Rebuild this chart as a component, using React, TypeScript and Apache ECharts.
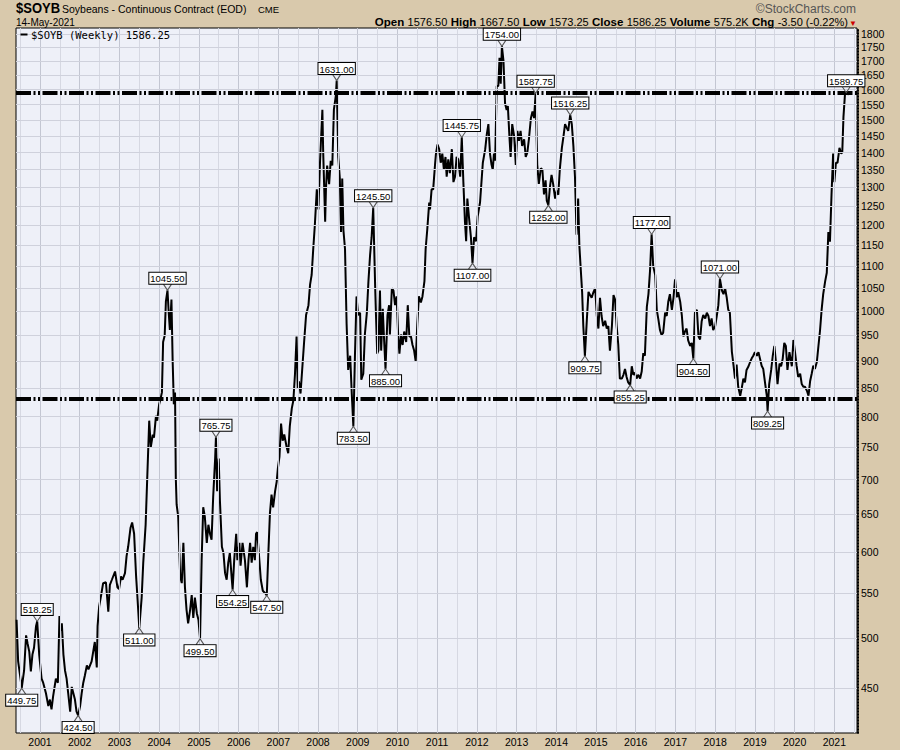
import React, { useEffect, useRef } from "react";
import * as echarts from "echarts";

// Weekly closes: [decimal year, price in cents/bushel]
const weeklyCloses: [number, number][] = [
  [2000.41, 520], [2000.45, 476], [2000.51, 459], [2000.54, 449.75], [2000.60, 467], [2000.65, 503], [2000.69, 494], [2000.73, 486], [2000.77, 466], [2000.81, 483], [2000.85, 490], [2000.90, 513], [2000.93, 518.25], [2000.98, 483],
  [2001.04, 459], [2001.08, 455], [2001.15, 445], [2001.21, 433], [2001.25, 439], [2001.29, 430], [2001.33, 442], [2001.40, 459], [2001.45, 455], [2001.49, 524], [2001.52, 508], [2001.55, 516], [2001.59, 483], [2001.63, 467], [2001.67, 459], [2001.71, 445], [2001.76, 428], [2001.80, 451], [2001.84, 445], [2001.88, 439], [2001.92, 428], [2001.96, 424.5],
  [2002.01, 433], [2002.05, 445], [2002.09, 455], [2002.13, 462], [2002.18, 472], [2002.22, 468], [2002.26, 472], [2002.30, 476], [2002.34, 486], [2002.38, 496], [2002.43, 470], [2002.45, 513], [2002.49, 535], [2002.54, 548], [2002.59, 562], [2002.66, 563], [2002.72, 529], [2002.76, 560], [2002.81, 566], [2002.89, 576], [2002.95, 557], [2002.99, 555],
  [2003.04, 570], [2003.08, 566], [2003.14, 574], [2003.18, 595], [2003.22, 607], [2003.28, 632], [2003.32, 639], [2003.37, 624], [2003.42, 570], [2003.45, 548], [2003.50, 511], [2003.56, 545], [2003.60, 587], [2003.66, 636], [2003.70, 702], [2003.75, 793], [2003.79, 750], [2003.84, 770], [2003.87, 765], [2003.92, 801], [2003.95, 793],
  [2004.00, 821], [2004.04, 832], [2004.07, 842], [2004.10, 937], [2004.14, 950], [2004.17, 1021], [2004.21, 1045.5], [2004.24, 999], [2004.27, 961], [2004.31, 1025], [2004.34, 901], [2004.37, 821], [2004.40, 842], [2004.42, 702], [2004.44, 664], [2004.48, 647], [2004.53, 570], [2004.57, 562], [2004.61, 612], [2004.65, 557], [2004.69, 531], [2004.73, 516], [2004.78, 531], [2004.82, 548], [2004.86, 522], [2004.90, 545], [2004.95, 527], [2004.99, 520],
  [2005.03, 499.5], [2005.07, 590], [2005.11, 660], [2005.15, 647], [2005.20, 612], [2005.24, 636], [2005.28, 624], [2005.32, 616], [2005.36, 674], [2005.41, 732], [2005.43, 765.75], [2005.46, 683], [2005.50, 732], [2005.53, 670], [2005.58, 607], [2005.62, 599], [2005.66, 574], [2005.70, 566], [2005.74, 587], [2005.78, 599], [2005.83, 566], [2005.85, 554.25], [2005.89, 590], [2005.94, 624], [2005.97, 590],
  [2006.02, 612], [2006.05, 583], [2006.10, 612], [2006.16, 590], [2006.21, 557], [2006.25, 590], [2006.29, 612], [2006.33, 587], [2006.37, 607], [2006.41, 590], [2006.44, 624], [2006.47, 626], [2006.51, 599], [2006.56, 566], [2006.61, 553], [2006.67, 550], [2006.71, 547.5], [2006.75, 599], [2006.79, 652], [2006.83, 678], [2006.87, 660], [2006.92, 683], [2006.96, 697], [2006.99, 717],
  [2007.03, 735], [2007.07, 788], [2007.11, 760], [2007.15, 770], [2007.21, 750], [2007.25, 740], [2007.29, 784], [2007.34, 814], [2007.38, 828], [2007.42, 875], [2007.46, 948], [2007.49, 850], [2007.52, 862], [2007.56, 840], [2007.65, 937], [2007.70, 992], [2007.76, 1013], [2007.80, 1058], [2007.84, 1080], [2007.88, 1141], [2007.92, 1200], [2007.97, 1295],
  [2008.01, 1241], [2008.05, 1370], [2008.11, 1533], [2008.13, 1404], [2008.18, 1209], [2008.20, 1295], [2008.23, 1362], [2008.28, 1309], [2008.32, 1376], [2008.36, 1362], [2008.40, 1533], [2008.45, 1580], [2008.47, 1631], [2008.51, 1387], [2008.55, 1325], [2008.58, 1183], [2008.61, 1325], [2008.64, 1188], [2008.68, 1141], [2008.72, 974], [2008.76, 883], [2008.81, 910], [2008.85, 840], [2008.89, 783.5], [2008.93, 910], [2008.97, 1032],
  [2009.01, 992], [2009.06, 997], [2009.09, 865], [2009.14, 876], [2009.18, 952], [2009.23, 997], [2009.27, 1066], [2009.31, 1125], [2009.35, 1170], [2009.39, 1245.5], [2009.44, 1050], [2009.46, 992], [2009.49, 914], [2009.52, 920], [2009.56, 1045], [2009.59, 920], [2009.63, 1005], [2009.66, 948], [2009.70, 885], [2009.75, 992], [2009.79, 1013], [2009.81, 952], [2009.86, 1050], [2009.90, 1045], [2009.94, 1013], [2009.98, 1032],
  [2010.02, 948], [2010.05, 914], [2010.09, 952], [2010.13, 931], [2010.17, 958], [2010.22, 937], [2010.26, 1013], [2010.30, 948], [2010.34, 948], [2010.38, 931], [2010.42, 920], [2010.46, 899], [2010.50, 974], [2010.54, 1032], [2010.59, 1019], [2010.63, 1032], [2010.68, 1066], [2010.71, 1141], [2010.75, 1188], [2010.80, 1259], [2010.82, 1241], [2010.86, 1295], [2010.90, 1295], [2010.95, 1370], [2010.97, 1397],
  [2011.01, 1424], [2011.05, 1410], [2011.09, 1370], [2011.13, 1397], [2011.17, 1350], [2011.21, 1387], [2011.24, 1330], [2011.28, 1380], [2011.32, 1340], [2011.37, 1410], [2011.41, 1315], [2011.45, 1330], [2011.49, 1387], [2011.53, 1380], [2011.58, 1330], [2011.62, 1445.75], [2011.66, 1315], [2011.70, 1209], [2011.73, 1160], [2011.76, 1270], [2011.80, 1222], [2011.85, 1170], [2011.89, 1107], [2011.93, 1170], [2011.98, 1160],
  [2012.02, 1222], [2012.08, 1260], [2012.15, 1370], [2012.21, 1410], [2012.25, 1455], [2012.29, 1487], [2012.33, 1397], [2012.37, 1364], [2012.40, 1350], [2012.43, 1397], [2012.46, 1376], [2012.50, 1612], [2012.54, 1612], [2012.57, 1711], [2012.60, 1620], [2012.63, 1754], [2012.67, 1700], [2012.71, 1553], [2012.75, 1532], [2012.78, 1545], [2012.82, 1448], [2012.85, 1387], [2012.89, 1487], [2012.94, 1448], [2012.98, 1364],
  [2013.02, 1466], [2013.06, 1435], [2013.10, 1466], [2013.14, 1420], [2013.19, 1440], [2013.23, 1387], [2013.27, 1400], [2013.31, 1440], [2013.36, 1506], [2013.40, 1527], [2013.44, 1506], [2013.48, 1587.75], [2013.52, 1364], [2013.56, 1310], [2013.61, 1354], [2013.65, 1350], [2013.69, 1281], [2013.73, 1320], [2013.76, 1264], [2013.80, 1252], [2013.84, 1302], [2013.88, 1335], [2013.92, 1310], [2013.97, 1270],
  [2014.01, 1292], [2014.05, 1280], [2014.09, 1354], [2014.14, 1414], [2014.18, 1448], [2014.22, 1487], [2014.26, 1476], [2014.30, 1466], [2014.35, 1516.25], [2014.39, 1487], [2014.43, 1420], [2014.47, 1330], [2014.51, 1176], [2014.55, 1270], [2014.58, 1150], [2014.61, 1102], [2014.65, 1042], [2014.68, 969], [2014.72, 909.75], [2014.77, 984], [2014.81, 1042], [2014.85, 1035], [2014.89, 1029], [2014.93, 1040], [2014.98, 1050],
  [2015.02, 991], [2015.06, 964], [2015.10, 1029], [2015.14, 990], [2015.18, 969], [2015.23, 980], [2015.27, 964], [2015.31, 969], [2015.35, 920], [2015.40, 969], [2015.44, 1035], [2015.48, 1025], [2015.52, 969], [2015.56, 932], [2015.60, 867], [2015.65, 867], [2015.69, 874], [2015.73, 885], [2015.77, 870], [2015.81, 860], [2015.86, 855.25], [2015.90, 890], [2015.94, 874], [2015.98, 878],
  [2016.02, 867], [2016.06, 874], [2016.11, 867], [2016.15, 880], [2016.19, 915], [2016.23, 910], [2016.28, 1010], [2016.32, 1037], [2016.36, 1090], [2016.40, 1177], [2016.44, 1100], [2016.49, 1080], [2016.53, 1003], [2016.57, 983], [2016.61, 961], [2016.65, 951], [2016.69, 955], [2016.74, 997], [2016.78, 990], [2016.82, 1021], [2016.86, 1037], [2016.91, 1003], [2016.95, 1029], [2016.99, 1070],
  [2017.03, 1030], [2017.07, 1041], [2017.12, 1020], [2017.16, 992], [2017.20, 948], [2017.24, 958], [2017.28, 964], [2017.32, 940], [2017.37, 929], [2017.41, 935], [2017.45, 904.5], [2017.49, 997], [2017.54, 1003], [2017.58, 948], [2017.62, 942], [2017.66, 979], [2017.70, 992], [2017.75, 985], [2017.79, 997], [2017.83, 990], [2017.87, 969], [2017.91, 985], [2017.95, 961],
  [2018.00, 969], [2018.04, 990], [2018.08, 1013], [2018.12, 1071], [2018.17, 1045], [2018.21, 1037], [2018.25, 1050], [2018.29, 1030], [2018.33, 1003], [2018.37, 997], [2018.42, 918], [2018.46, 893], [2018.50, 867], [2018.54, 893], [2018.58, 852], [2018.63, 836], [2018.67, 850], [2018.71, 867], [2018.75, 860], [2018.79, 883], [2018.84, 890], [2018.88, 898], [2018.92, 905], [2018.96, 910],
  [2019.00, 917], [2019.05, 910], [2019.09, 917], [2019.13, 904], [2019.17, 891], [2019.21, 885], [2019.26, 857], [2019.30, 836], [2019.32, 809.25], [2019.36, 857], [2019.41, 883], [2019.45, 910], [2019.49, 929], [2019.53, 898], [2019.57, 857], [2019.62, 895], [2019.66, 890], [2019.70, 904], [2019.74, 935], [2019.78, 929], [2019.82, 883], [2019.87, 917], [2019.93, 890], [2019.97, 941],
  [2020.01, 917], [2020.05, 891], [2020.09, 870], [2020.14, 876], [2020.18, 857], [2020.22, 852], [2020.26, 852], [2020.31, 845], [2020.35, 836], [2020.39, 862], [2020.43, 876], [2020.47, 891], [2020.51, 885], [2020.56, 898], [2020.60, 929], [2020.64, 960], [2020.68, 1003], [2020.72, 1037], [2020.77, 1066], [2020.81, 1085], [2020.85, 1183], [2020.89, 1159], [2020.93, 1282], [2020.97, 1397],
  [2021.00, 1315], [2021.04, 1370], [2021.08, 1370], [2021.13, 1414], [2021.17, 1397], [2021.20, 1400], [2021.23, 1510], [2021.27, 1588], [2021.30, 1589.75], [2021.34, 1584], [2021.37, 1586.25],
];

const highDates = [2000.93, 2004.21, 2005.43, 2008.47, 2009.39, 2011.62, 2012.63, 2013.48, 2014.35, 2016.40, 2018.12, 2021.30];
const highValues = [518.25, 1045.5, 765.75, 1631, 1245.5, 1445.75, 1754, 1587.75, 1516.25, 1177, 1071, 1589.75];
const lowDates = [2000.54, 2001.96, 2003.50, 2005.03, 2005.85, 2006.71, 2008.89, 2009.70, 2011.89, 2013.80, 2014.72, 2015.86, 2017.45, 2019.32];
const lowValues = [449.75, 424.5, 511, 499.5, 554.25, 547.5, 783.5, 885, 1107, 1252, 909.75, 855.25, 904.5, 809.25];

const levelLines = [1590, 830];
const yTicks = [450, 500, 550, 600, 650, 700, 750, 800, 850, 900, 950, 1000, 1050, 1100, 1150, 1200, 1250, 1300, 1350, 1400, 1450, 1500, 1550, 1600, 1650, 1700, 1750, 1800];
const yearTicks = [2001, 2002, 2003, 2004, 2005, 2006, 2007, 2008, 2009, 2010, 2011, 2012, 2013, 2014, 2015, 2016, 2017, 2018, 2019, 2020, 2021];
const halfYearTicks = [2000.5, 2001.5, 2002.5, 2003.5, 2004.5, 2005.5, 2006.5, 2007.5, 2008.5, 2009.5, 2010.5, 2011.5, 2012.5, 2013.5, 2014.5, 2015.5, 2016.5, 2017.5, 2018.5, 2019.5, 2020.5, 2021.5];

const headerFields: [string, string][] = [
  ["Open", "1576.50"],
  ["High", "1667.50"],
  ["Low", "1573.25"],
  ["Close", "1586.25"],
  ["Volume", "575.2K"],
  ["Chg", "-3.50 (-0.22%)"],
];

const SANS = '"Liberation Sans", Arial, sans-serif';
const MONO = '"DejaVu Sans Mono", monospace';

export default function App() {
  const ref = useRef<HTMLDivElement>(null);

  useEffect(() => {
    if (!ref.current) return;
    const chart = echarts.init(ref.current, undefined, { renderer: "svg" });

    const gridLines: any[] = [
      ...halfYearTicks.map((t) => ({
        xAxis: t,
        lineStyle: { color: "#d6d8e2", width: 1, type: "solid" },
        label: { show: false },
      })),
      ...yearTicks.map((t) => ({
        xAxis: t,
        lineStyle: { color: "#c3c6d2", width: 1, type: "solid" },
        label: {
          show: true,
          position: "start",
          distance: 3,
          formatter: () => String(t),
          color: "#000",
          fontSize: 10.5,
          fontFamily: SANS,
        },
      })),
      ...yTicks.map((v) => ({
        yAxis: v,
        lineStyle: { color: "#cfd1dc", width: 1, type: "solid" },
        label: {
          show: true,
          position: "end",
          distance: 4,
          formatter: () => String(v),
          color: "#000",
          fontSize: 10.5,
          fontFamily: SANS,
        },
      })),
    ];

    const labelBox = {
      show: true,
      color: "#000",
      fontSize: 9.5,
      lineHeight: 10,
      fontFamily: SANS,
      backgroundColor: "#fff",
      borderColor: "#000",
      borderWidth: 1,
      padding: [1, 1, 0, 1],
      formatter: (p: any) => Number(p.value).toFixed(2),
    };

    const pointMarks: any[] = [
      ...highDates.map((d, i) => ({
        coord: [d, highValues[i]],
        value: highValues[i],
        symbol: "path://M0,0L4,5L8,0",
        symbolSize: [8, 6],
        symbolOffset: [0, -3],
        label: { ...labelBox, position: "top", distance: 0 },
      })),
      ...lowDates.map((d, i) => ({
        coord: [d, lowValues[i]],
        value: lowValues[i],
        symbol: "path://M0,5L4,0L8,5",
        symbolSize: [8, 6],
        symbolOffset: [0, 3],
        label: { ...labelBox, position: "bottom", distance: 0 },
      })),
    ];

    const headerRich = headerFields
      .map(([k, v]) => `{b|${k}} {v|${v}}`)
      .join(" ");

    const option: any = {
      animation: false,
      backgroundColor: "#d9c9ac",
      grid: {
        left: 16,
        top: 28,
        width: 841,
        height: 705,
        show: true,
        backgroundColor: "#eef0f8",
        borderColor: "#000",
        borderWidth: 1,
      },
      xAxis: {
        type: "value",
        min: 2000.396,
        max: 2021.571,
        axisLabel: { show: false },
        axisTick: { show: false },
        axisLine: { show: false },
        splitLine: { show: false },
      },
      yAxis: {
        type: "log",
        logBase: 10,
        min: 409,
        max: 1823,
        position: "right",
        offset: 1,
        axisLabel: { show: false },
        axisTick: { show: false },
        splitLine: { show: false },
        axisLine: { show: true, onZero: false, lineStyle: { color: "#000", width: 2, type: [1, 2] } },
      },
      series: [
        {
          type: "line",
          data: [],
          silent: true,
          z: 1,
          markLine: {
            silent: true,
            symbol: ["none", "none"],
            animation: false,
            data: gridLines,
          },
        },
        {
          type: "line",
          data: weeklyCloses,
          showSymbol: false,
          silent: true,
          z: 3,
          lineStyle: { color: "#000", width: 2 },
          itemStyle: { color: "#000" },
          markPoint: {
            silent: true,
            animation: false,
            itemStyle: { color: "rgba(0,0,0,0)", borderColor: "#555", borderWidth: 1 },
            data: pointMarks,
          },
        },
        {
          type: "line",
          data: [],
          silent: true,
          z: 5,
          markLine: {
            silent: true,
            symbol: ["none", "none"],
            animation: false,
            label: { show: false },
            lineStyle: { color: "#000", width: 4, type: [15, 2.5, 2, 2.5, 2, 2.5] },
            data: levelLines.map((v) => ({ yAxis: v })),
          },
        },
      ],
      graphic: [
        {
          type: "text",
          x: 16,
          y: 8,
          scaleY: 1.1,
          style: { text: "$SOYB", font: `bold 13px ${SANS}`, fill: "#000", verticalAlign: "middle" },
        },
        {
          type: "text",
          x: 62,
          y: 8.5,
          style: {
            text: "Soybeans - Continuous Contract (EOD)",
            font: `10.5px ${SANS}`,
            fill: "#000",
            verticalAlign: "middle",
          },
        },
        {
          type: "text",
          x: 258,
          y: 9,
          style: { text: "CME", font: `9.5px ${SANS}`, fill: "#000", verticalAlign: "middle" },
        },
        {
          type: "text",
          x: 16,
          y: 22,
          style: { text: "14-May-2021", font: `10px ${SANS}`, fill: "#000", verticalAlign: "middle" },
        },
        {
          type: "text",
          x: 856,
          y: 9,
          style: {
            text: "©StockCharts.com",
            font: `12px ${SANS}`,
            fill: "#555",
            align: "right",
            verticalAlign: "middle",
          },
        },
        {
          type: "text",
          x: 848,
          y: 22,
          style: {
            text: headerRich,
            align: "right",
            verticalAlign: "middle",
            rich: {
              b: { font: `bold 11.5px ${SANS}`, fill: "#000" },
              v: { font: `11px ${SANS}`, fill: "#000" },
            },
          },
        },
        {
          type: "text",
          x: 853,
          y: 23,
          style: { text: "▼", font: `8px ${SANS}`, fill: "#cc0000", align: "center", verticalAlign: "middle" },
        },
        {
          type: "rect",
          shape: { x: 20.5, y: 33.5, width: 7, height: 2 },
          style: { fill: "#000" },
          z: 10,
        },
        {
          type: "text",
          x: 31,
          y: 35,
          z: 10,
          style: {
            text: "$SOYB (Weekly) 1586.25",
            font: `10.5px ${MONO}`,
            fill: "#000",
            verticalAlign: "middle",
          },
        },
      ],
    };

    chart.setOption(option);
    return () => chart.dispose();
  }, []);

  return (
    <div
      ref={ref}
      style={{ position: "absolute", left: 0, top: 0, width: 900, height: 750 }}
    />
  );
}
